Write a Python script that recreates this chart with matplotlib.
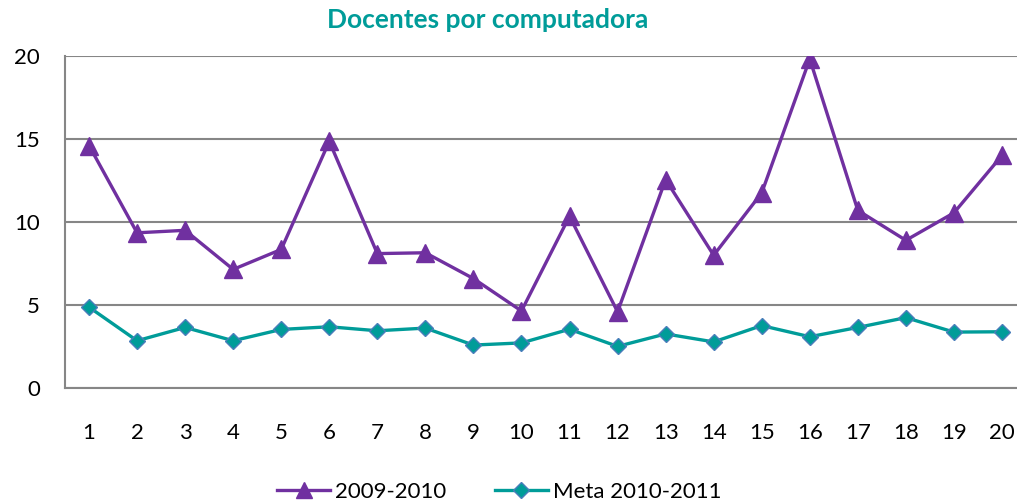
import matplotlib
matplotlib.use("Agg")
import matplotlib.pyplot as plt
from matplotlib.lines import Line2D

plt.rcParams['font.family'] = ['Lato', 'DejaVu Sans']

categories = list(range(1, 21))
serie_2009_2010 = [14.6, 9.35, 9.5, 7.15, 8.35, 14.85, 8.1, 8.15, 6.6, 4.65,
                   10.35, 4.6, 12.55, 8.0, 11.75, 19.8, 10.7, 8.9, 10.55, 14.0]
meta_2010_2011 = [4.88, 2.86, 3.66, 2.86, 3.54, 3.7, 3.46, 3.62, 2.6, 2.73,
                  3.55, 2.52, 3.27, 2.79, 3.77, 3.1, 3.66, 4.25, 3.38, 3.4]
y_ticks = [0, 5, 10, 15, 20]

purple = "#7030A0"
teal = "#009C99"
grid_gray = "#868686"

W, H = 1017, 504
fig = plt.figure(figsize=(W / 100, H / 100), dpi=100)
left, right, top, bottom = 65, 1017, 55.7, 388.3
ax = fig.add_axes([left / W, (H - bottom) / H, (right - left) / W, (bottom - top) / H])

ax.plot(categories, serie_2009_2010, color=purple, lw=2.4, marker="^",
        markersize=13, markerfacecolor=purple, markeredgecolor=purple, zorder=3)
ax.plot(categories, meta_2010_2011, color=teal, lw=2.4, marker="D",
        markersize=8, markerfacecolor=teal, markeredgecolor="#4A7EBB",
        markeredgewidth=1.0, zorder=3)

step = 48.05
ax.set_xlim(0.5, 0.5 + (right - left) / step)
ax.set_ylim(0, 20)
ax.set_yticks(y_ticks)
ax.set_xticks(categories)
ax.set_xticklabels([str(c) for c in categories])
ax.yaxis.grid(True, color=grid_gray, lw=1.5)
ax.set_axisbelow(True)
for s in ["top", "right"]:
    ax.spines[s].set_visible(False)
ax.spines["left"].set_color(grid_gray)
ax.spines["left"].set_linewidth(1.5)
ax.spines["bottom"].set_color(grid_gray)
ax.spines["bottom"].set_linewidth(1.5)
ax.tick_params(axis="both", length=0, labelsize=16, colors="black")
ax.tick_params(axis="y", pad=18)
ax.tick_params(axis="x", pad=25)

fig.text(488 / W, 1 - 20 / H, "Docentes por computadora", color=teal,
         fontsize=19, fontweight="bold", ha="center", va="center")

handles = [
    Line2D([], [], color=purple, lw=2.4, marker="^", markersize=12,
           markerfacecolor=purple, markeredgecolor=purple),
    Line2D([], [], color=teal, lw=2.4, marker="D", markersize=8,
           markerfacecolor=teal, markeredgecolor="#4A7EBB"),
]
fig.legend(handles, ["2009-2010", "Meta 2010-2011"], loc="center",
           bbox_to_anchor=(499 / W, 1 - 492 / H), ncol=2, frameon=False,
           fontsize=16, handlelength=2.4, handletextpad=0.2, columnspacing=2.2)

fig.savefig("out.png", dpi=100)
